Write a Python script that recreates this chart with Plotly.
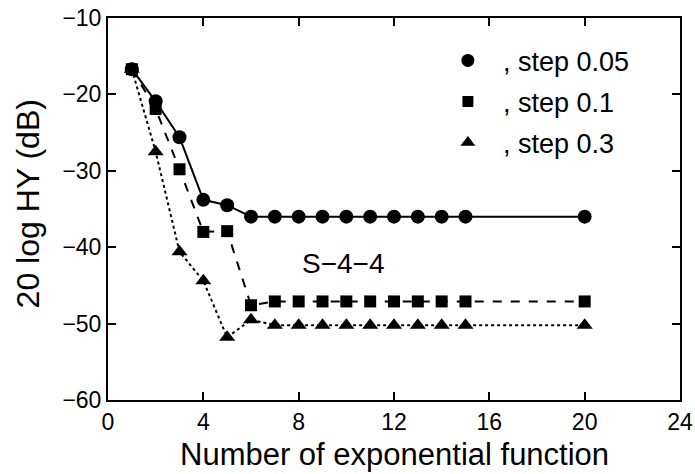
import plotly.graph_objects as go

x_vals = [1, 2, 3, 4, 5, 6, 7, 8, 9, 10, 11, 12, 13, 14, 15, 20]
step_005 = [-16.7, -20.9, -25.6, -33.8, -34.5, -36.0, -36.0, -36.0, -36.0, -36.0, -36.0, -36.0, -36.0, -36.0, -36.0, -36.0]
step_01 = [-16.7, -21.9, -29.8, -38.0, -37.9, -47.6, -47.1, -47.1, -47.1, -47.1, -47.1, -47.1, -47.1, -47.1, -47.1, -47.1]
step_03 = [-16.7, -27.5, -40.6, -44.4, -51.8, -49.5, -50.2, -50.2, -50.2, -50.2, -50.2, -50.2, -50.2, -50.2, -50.2, -50.2]

series = [
    (", step 0.05", step_005, "circle", "solid", 14),
    (", step 0.1", step_01, "square", "dash", 12),
    (", step 0.3", step_03, "triangle-up", "dot", 14),
]
legend_sizes = [13, 11, 13]

FONT = "Liberation Sans, Arial, Helvetica, sans-serif"
fig = go.Figure()
for i, (name, ys, sym, dash, sz) in enumerate(series):
    fig.add_trace(go.Scatter(
        x=x_vals, y=ys, mode="lines+markers", showlegend=False,
        line=dict(color="black", width=2, dash=dash),
        marker=dict(symbol=sym, size=sz, color="black"),
    ))
for i, (name, ys, sym, dash, sz) in enumerate(series):
    fig.add_trace(go.Scatter(
        x=[None], y=[None], mode="markers", name=name, legendgroup=str(i),
        marker=dict(symbol=sym, size=legend_sizes[i], color="black"),
    ))

axis_common = dict(
    showline=True, linecolor="black", linewidth=2, mirror="ticks",
    ticks="inside", ticklen=8, tickwidth=1.5, tickcolor="black",
    showgrid=False, zeroline=False, automargin=False,
    tickfont=dict(family=FONT, size=23, color="black"),
)
fig.update_xaxes(range=[0, 24], dtick=4, tick0=0, **axis_common)
fig.update_yaxes(range=[-60, -10], dtick=10, tick0=-60, **axis_common)

fig.add_annotation(text="Number of exponential function", xref="paper", yref="paper",
                   x=0.5, y=0, xanchor="center", yanchor="middle", yshift=-54,
                   showarrow=False, font=dict(family=FONT, size=31, color="black"))
fig.add_annotation(text="20 log HY (dB)", xref="paper", yref="paper",
                   x=0, y=0.512, xanchor="center", yanchor="middle", xshift=-80,
                   textangle=-90, showarrow=False,
                   font=dict(family=FONT, size=32, color="black"))

fig.add_annotation(x=9.86, y=-42.1, text="S\u22124\u22124", showarrow=False,
                   font=dict(family=FONT, size=28, color="black"))

fig.update_layout(
    width=695, height=474,
    margin=dict(l=108, r=15, t=18, b=74),
    plot_bgcolor="white", paper_bgcolor="white",
    legend=dict(x=0.568, y=0.952, xanchor="left", yanchor="top",
                font=dict(family=FONT, size=27, color="black"),
                bgcolor="rgba(0,0,0,0)", tracegroupgap=3, itemwidth=60),
)
fig.write_html("out.html")
